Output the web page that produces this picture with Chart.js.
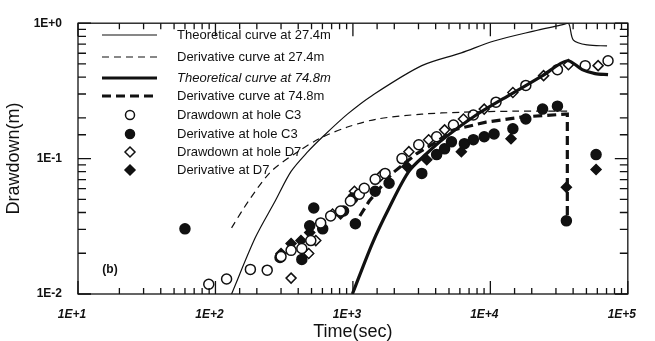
<!DOCTYPE html>
<html>
<head>
<meta charset="utf-8">
<script src="https://cdn.jsdelivr.net/npm/chart.js@4.4.0/dist/chart.umd.min.js"></script>
<style>
  html, body { margin: 0; padding: 0; background: #fff; }
  canvas { display: block; }
</style>
</head>
<body>
<canvas id="drawdownChart" width="655" height="341" style="width:655px;height:341px"></canvas>
<script>
// tick labels (log axes)
const xTickValues = [10, 100, 1000, 10000, 100000];
const xTickLabels = ['1E+1', '1E+2', '1E+3', '1E+4', '1E+5'];
const yTickValues = [1, 0.1, 0.01];
const yTickLabels = ['1E+0', '1E-1', '1E-2'];

// Theoretical curve at 27.4m
const theo27Time = [131, 195, 272, 355, 470, 603, 912, 1383, 3170, 6150, 10640, 20650, 32350, 36980, 40180, 50700, 70600];
const theo27Draw = [0.010, 0.0261, 0.0486, 0.0804, 0.1125, 0.145, 0.213, 0.293, 0.486, 0.604, 0.739, 0.874, 0.967, 1.0, 0.751, 0.691, 0.680];

// Derivative curve at 27.4m
const deriv27Time = [131, 174, 254, 398, 583, 912, 1503, 3170, 6150, 15350, 36300];
const deriv27Draw = [0.0308, 0.0486, 0.0804, 0.1125, 0.142, 0.171, 0.196, 0.213, 0.220, 0.224, 0.224];

// Theoretical curve at 74.8m
const theo74Time = [991, 1383, 1833, 2553, 3445, 4560, 7890, 13650, 23980, 36300, 46560, 57800, 71800];
const theo74Draw = [0.010, 0.0236, 0.0432, 0.0804, 0.109, 0.140, 0.210, 0.293, 0.410, 0.528, 0.454, 0.424, 0.417];

// Derivative curve at 74.8m
const deriv74Time = [991, 1315, 1928, 2917, 4065, 5390, 9310, 17220, 35150, 36300, 36300];
const deriv74Draw = [0.0308, 0.0486, 0.0777, 0.109, 0.133, 0.163, 0.186, 0.203, 0.213, 0.213, 0.0335];

// Drawdown at hole C3
const c3DrawTime = [89.4, 120.5, 179.5, 238, 300, 355, 425, 494, 583, 689, 813, 959, 1113, 1210, 1452, 1714,
  2275, 3013, 4065, 5390, 7520, 10990, 18110, 30760, 48980, 71800];
const c3DrawVal = [0.0118, 0.0129, 0.0152, 0.0150, 0.0189, 0.0210, 0.0217, 0.0248, 0.0335, 0.0377, 0.0410, 0.0486, 0.0546, 0.0604, 0.0703, 0.0777,
  0.100, 0.1265, 0.145, 0.177, 0.210, 0.261, 0.347, 0.454, 0.486, 0.528];

// Derivative at hole C3
const c3DerivTime = [60, 295, 425, 485, 519, 603, 855, 1042, 1000, 1452, 1833, 3170,
  4065, 4645, 5210, 6470, 7520, 9020, 10640, 14580, 18110, 23980, 30760, 35730, 58750];
const c3DerivVal = [0.0303, 0.0186, 0.0180, 0.0319, 0.0432, 0.0303, 0.0410, 0.0330, 0.0511, 0.0574, 0.0657, 0.0777,
  0.107, 0.118, 0.133, 0.129, 0.138, 0.145, 0.152, 0.166, 0.196, 0.232, 0.244, 0.0347, 0.107];

// Drawdown at hole D7
const d7DrawTime = [355, 477, 537, 711, 1026, 1578, 2553, 3557, 4645, 6370, 9020, 14580, 24390, 36980, 60800];
const d7DrawVal = [0.0131, 0.0199, 0.0248, 0.0390, 0.0574, 0.0739, 0.1125, 0.1377, 0.163, 0.196, 0.232, 0.308, 0.410, 0.494, 0.486];

// Derivative at D7
const d7DerivTime = [300, 355, 419, 485, 813, 1000, 2472, 3445, 6150, 14130, 35730, 58750];
const d7DerivVal = [0.0199, 0.0236, 0.0248, 0.0284, 0.0390, 0.0511, 0.0874, 0.098, 0.1125, 0.140, 0.0614, 0.0831];

const toPoints = (xs, ys) => xs.map((x, i) => ({ x: x, y: ys[i] }));

function tickLabel(value, values, labels) {
  const i = values.findIndex(v => Math.abs(Math.log10(v) - Math.log10(value)) < 1e-6);
  return i >= 0 ? labels[i] : '';
}

// frame with inward ticks on all four sides
const frameTicks = {
  id: 'frameTicks',
  afterDraw(chart) {
    const ctx = chart.ctx;
    const a = chart.chartArea;
    ctx.save();
    ctx.strokeStyle = '#111';
    ctx.lineWidth = 1.3;
    ctx.strokeRect(a.left, a.top, a.right - a.left, a.bottom - a.top);
    ctx.beginPath();
    chart.scales.x.ticks.forEach(t => {
      const px = chart.scales.x.getPixelForValue(t.value);
      const len = t.label ? 13 : 6;
      ctx.moveTo(px, a.bottom); ctx.lineTo(px, a.bottom - len);
      ctx.moveTo(px, a.top); ctx.lineTo(px, a.top + len);
    });
    chart.scales.y.ticks.forEach(t => {
      const py = chart.scales.y.getPixelForValue(t.value);
      const len = t.label ? 13 : 8;
      ctx.moveTo(a.left, py); ctx.lineTo(a.left + len, py);
      ctx.moveTo(a.right, py); ctx.lineTo(a.right - len, py);
    });
    ctx.stroke();
    ctx.fillStyle = '#111';
    ctx.font = 'bold 12px "Liberation Sans", Arial, sans-serif';
    ctx.textAlign = 'center';
    ctx.textBaseline = 'middle';
    ctx.fillText('(b)', 110, 270);
    ctx.restore();
  }
};

// legend drawn inside the plot, top left
const insideLegend = {
  id: 'insideLegend',
  afterDraw(chart) {
    const ctx = chart.ctx;
    const rows = [35, 57, 78, 96, 115, 134, 152, 170];
    ctx.save();
    chart.data.datasets.forEach((ds, i) => {
      const y = rows[i];
      ctx.strokeStyle = '#111';
      ctx.fillStyle = '#111';
      if (ds.showLine) {
        ctx.lineWidth = ds.borderWidth;
        ctx.setLineDash(ds.borderDash || []);
        ctx.beginPath();
        ctx.moveTo(102, y); ctx.lineTo(157, y);
        ctx.stroke();
        ctx.setLineDash([]);
      } else {
        ctx.lineWidth = 1.5;
        ctx.fillStyle = ds.pointBackgroundColor;
        ctx.beginPath();
        if (ds.pointStyle === 'rectRot') {
          const r = 5;
          ctx.moveTo(130, y - r); ctx.lineTo(130 + r, y); ctx.lineTo(130, y + r); ctx.lineTo(130 - r, y);
          ctx.closePath();
        } else {
          ctx.arc(130, y, 4.5, 0, Math.PI * 2);
        }
        ctx.fill();
        ctx.stroke();
      }
      ctx.fillStyle = '#111';
      ctx.font = (ds.italic ? 'italic ' : '') + '13px "Liberation Sans", Arial, sans-serif';
      ctx.textBaseline = 'middle';
      ctx.textAlign = 'left';
      ctx.fillText(ds.label, 177, y);
    });
    ctx.restore();
  }
};

const lineSet = (label, xs, ys, width, dash, extra) => Object.assign({
  label: label,
  data: toPoints(xs, ys),
  showLine: true,
  borderColor: '#111',
  borderWidth: width,
  borderDash: dash,
  pointRadius: 0,
  tension: 0.3,
  fill: false
}, extra || {});

const markerSet = (label, xs, ys, style, filled) => ({
  label: label,
  data: toPoints(xs, ys),
  showLine: false,
  pointStyle: style,
  pointRadius: 5,
  borderWidth: 1.5,
  borderColor: '#111',
  pointBackgroundColor: filled ? '#111' : '#fff',
  backgroundColor: filled ? '#111' : '#fff'
});

const ctx = document.getElementById('drawdownChart').getContext('2d');
const drawdownChart = new Chart(ctx, {
  type: 'scatter',
  data: {
    datasets: [
      lineSet('Theoretical curve at 27.4m', theo27Time, theo27Draw, 1.2, []),
      lineSet('Derivative curve at 27.4m', deriv27Time, deriv27Draw, 1.2, [7, 5]),
      lineSet('Theoretical curve at 74.8m', theo74Time, theo74Draw, 3.2, [], { italic: true }),
      lineSet('Derivative curve at 74.8m', deriv74Time, deriv74Draw, 3.2, [9, 5], { tension: 0 }),
      markerSet('Drawdown at hole C3', c3DrawTime, c3DrawVal, 'circle', false),
      markerSet('Derivative at hole C3', c3DerivTime, c3DerivVal, 'circle', true),
      markerSet('Drawdown at hole D7', d7DrawTime, d7DrawVal, 'rectRot', false),
      markerSet('Derivative at D7', d7DerivTime, d7DerivVal, 'rectRot', true)
    ]
  },
  options: {
    responsive: false,
    animation: false,
    layout: { padding: { left: 0, top: 20, right: 22, bottom: 0 } },
    plugins: {
      legend: { display: false },
      tooltip: { enabled: false }
    },
    scales: {
      x: {
        type: 'logarithmic',
        min: 10,
        max: 100000,
        grid: { display: false, drawTicks: false },
        border: { display: false },
        afterFit: s => { s.height = 47; },
        ticks: {
          autoSkip: false,
          maxRotation: 0,
          padding: 13,
          labelOffset: -6,
          color: '#111',
          font: { family: '"Liberation Sans", Arial, sans-serif', size: 12, weight: 'bold', style: 'italic' },
          callback: v => tickLabel(v, xTickValues, xTickLabels)
        },
        title: {
          display: true,
          text: 'Time(sec)',
          color: '#111',
          padding: 0,
          font: { family: '"Liberation Sans", Arial, sans-serif', size: 18, lineHeight: 1.0 }
        }
      },
      y: {
        type: 'logarithmic',
        min: 0.01,
        max: 1,
        grid: { display: false, drawTicks: false },
        border: { display: false },
        afterFit: s => { s.width = 78; },
        ticks: {
          autoSkip: false,
          padding: 16,
          color: '#111',
          font: { family: '"Liberation Sans", Arial, sans-serif', size: 12, weight: 'bold' },
          callback: v => tickLabel(v, yTickValues, yTickLabels)
        },
        title: {
          display: true,
          text: 'Drawdown(m)',
          color: '#111',
          padding: { top: 3, bottom: 0 },
          font: { family: '"Liberation Sans", Arial, sans-serif', size: 18 }
        }
      }
    }
  },
  plugins: [frameTicks, insideLegend]
});
</script>
</body>
</html>
